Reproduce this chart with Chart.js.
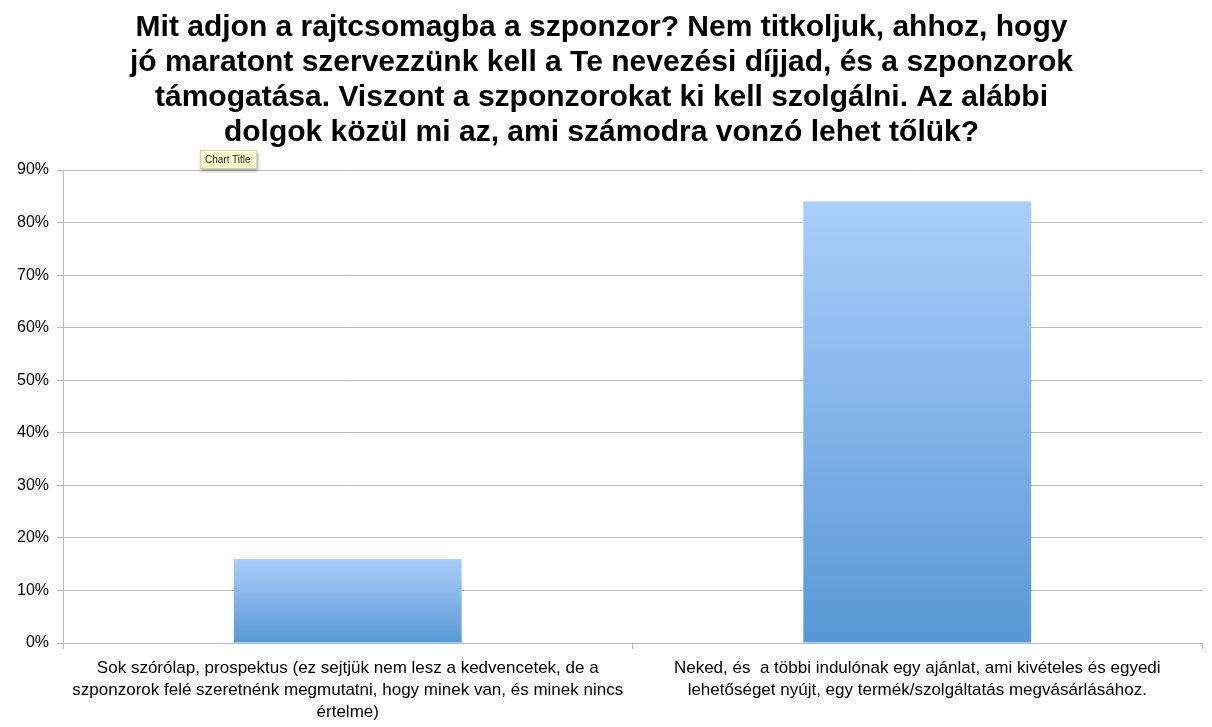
<!DOCTYPE html>
<html>
<head>
<meta charset="utf-8">
<script src="https://cdn.jsdelivr.net/npm/chart.js@4/dist/chart.umd.min.js"></script>
<style>
	body { margin: 0; background: #fff; }
	#wrap { position: relative; width: 1212px; height: 727px; }
	#tip {
		position: absolute; left: 200px; top: 150px;
		padding: 3px 5px 3px 4px;
		background: #ffffd2; border: 1px solid #d6d6a8;
		box-shadow: 1px 2px 3px rgba(0,0,0,0.35);
		font: 10px "Liberation Sans", Arial, sans-serif; color: #222;
	}
</style>
</head>
<body>
<div id="wrap">
	<canvas id="chart" width="1212" height="727"></canvas>
	<div id="tip">Chart Title</div>
</div>
<script>
var titleLines = [
	"Mit adjon a rajtcsomagba a szponzor? Nem titkoljuk, ahhoz, hogy",
	"jó maratont szervezzünk kell a Te nevezési díjjad, és a szponzorok",
	"támogatása. Viszont a szponzorokat ki kell szolgálni. Az alábbi",
	"dolgok közül mi az, ami számodra vonzó lehet tőlük?"
];

var categories = [
	["Sok szórólap, prospektus (ez sejtjük nem lesz a kedvencetek, de a",
	 "szponzorok felé szeretnénk megmutatni, hogy minek van, és minek nincs",
	 "értelme)"],
	["Neked, és  a többi indulónak egy ajánlat, ami kivételes és egyedi",
	 "lehetőséget nyújt, egy termék/szolgáltatás megvásárlásához."]
];

var percents = [16, 84];

var axisMax = 90;
var axisStep = 10;

var gridColor = '#b8b8b8';

function barGradient(ctx){
	var chart = ctx.chart;
	var area = chart.chartArea;
	if(!area) return '#7fb0e8';
	var top = chart.scales.y.getPixelForValue(ctx.raw);
	var g = chart.ctx.createLinearGradient(0, top, 0, area.bottom);
	g.addColorStop(0, '#abcefa');
	g.addColorStop(1, '#5898d6');
	return g;
}

var chart = new Chart(document.getElementById('chart'), {
	type: 'bar',
	data: {
		labels: categories,
		datasets: [{
			data: percents,
			backgroundColor: barGradient,
			borderWidth: 0,
			categoryPercentage: 0.8,
			barPercentage: 0.5
		}]
	},
	options: {
		responsive: false,
		devicePixelRatio: 1,
		animation: false,
		layout: { padding: { left: 1, right: 10, top: 0, bottom: 0 } },
		plugins: {
			legend: { display: false },
			tooltip: { enabled: false },
			title: {
				display: true,
				text: titleLines,
				color: '#000',
				font: { family: '"Liberation Sans", Arial, sans-serif', size: 30, weight: 'bold', lineHeight: 1.167 },
				padding: { top: 10, bottom: 20 }
			}
		},
		scales: {
			x: {
				grid: { drawOnChartArea: false, drawTicks: true, tickLength: 6, color: gridColor },
				border: { display: true, color: gridColor },
				ticks: {
					color: '#000',
					padding: 8,
					maxRotation: 0,
					autoSkip: false,
					font: { family: '"Liberation Sans", Arial, sans-serif', size: 17, lineHeight: 1.3 }
				},
				afterFit: function(scale){ scale.height = 84; }
			},
			y: {
				min: 0,
				max: axisMax,
				grid: { color: gridColor, tickLength: 6 },
				border: { display: true, color: gridColor },
				ticks: {
					stepSize: axisStep,
					color: '#000',
					padding: 8,
					font: { family: '"Liberation Sans", Arial, sans-serif', size: 16 },
					callback: function(v){ return v + '%'; }
				},
				afterFit: function(scale){ scale.width = 62; }
			}
		}
	}
});
</script>
</body>
</html>
